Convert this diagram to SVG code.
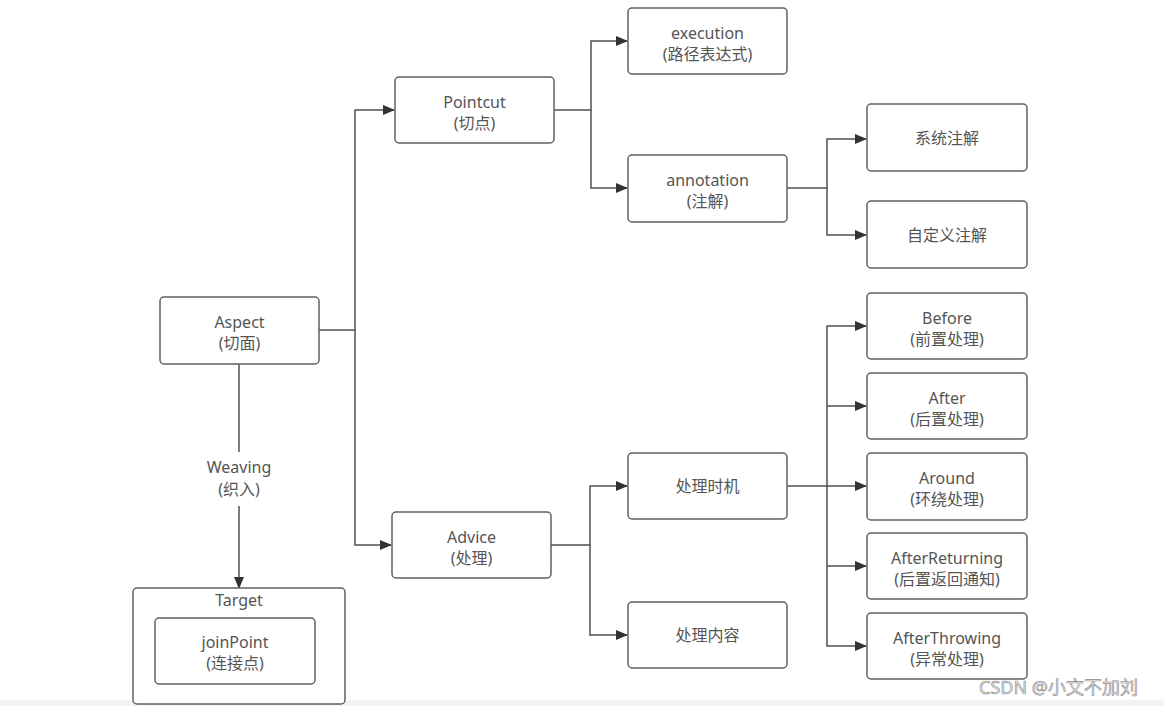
<svg xmlns="http://www.w3.org/2000/svg" width="1164" height="706" viewBox="0 0 1164 706">
<style>
.box{fill:#fff;stroke:#606060;stroke-width:1.5}
.t{font-family:"Noto Sans","Noto Sans CJK SC",sans-serif;font-size:16px;fill:#555;text-anchor:middle}
.c{fill:none;stroke:#505050;stroke-width:1.5}
.wm{font-family:"Noto Sans","Noto Sans CJK SC",sans-serif;font-size:18px;fill:#eaeaea;stroke:#8a8a8a;stroke-width:0.6}
</style>
<defs>
<marker id="ah" markerWidth="12" markerHeight="10" refX="11" refY="5" orient="auto" markerUnits="userSpaceOnUse">
<path d="M0,0 L12,5 L0,10 Z" fill="#333"/>
</marker>
</defs>
<rect width="1164" height="706" fill="#fff"/>
<rect x="0" y="700" width="1164" height="6" fill="#f3f3f3"/>
<g id="connectors">
<path class="c" d="M319,330 H355 V110 H394" marker-end="url(#ah)"/>
<path class="c" d="M355,330 V545 H391" marker-end="url(#ah)"/>
<path class="c" d="M554,110 H591 V41 H627" marker-end="url(#ah)"/>
<path class="c" d="M591,110 V188 H627" marker-end="url(#ah)"/>
<path class="c" d="M787,188 H827 V139 H866" marker-end="url(#ah)"/>
<path class="c" d="M827,188 V235 H866" marker-end="url(#ah)"/>
<path class="c" d="M551,545 H590 V486 H627" marker-end="url(#ah)"/>
<path class="c" d="M590,545 V635 H627" marker-end="url(#ah)"/>
<path class="c" d="M787,486 H827 V326 H866" marker-end="url(#ah)"/>
<path class="c" d="M827,406 H866" marker-end="url(#ah)"/>
<path class="c" d="M827,486 H866" marker-end="url(#ah)"/>
<path class="c" d="M827,486 V646 H866" marker-end="url(#ah)"/>
<path class="c" d="M827,566 H866" marker-end="url(#ah)"/>
<path class="c" d="M239,364 V452"/>
<path class="c" d="M239,506 V588" marker-end="url(#ah)"/>
<text class="t" x="239" y="473">Weaving</text>
<text class="t" x="239" y="495">(织入)</text>
</g>
<g id="aspect"><rect class="box" x="160" y="297" width="159" height="67" rx="4"/><text class="t" x="239.5" y="328">Aspect</text><text class="t" x="239.5" y="349">(切面)</text></g>
<g id="pointcut"><rect class="box" x="395" y="77" width="159" height="66" rx="4"/><text class="t" x="474.5" y="108">Pointcut</text><text class="t" x="474.5" y="129">(切点)</text></g>
<g id="advice"><rect class="box" x="392" y="512" width="159" height="66" rx="4"/><text class="t" x="471.5" y="543">Advice</text><text class="t" x="471.5" y="564">(处理)</text></g>
<g id="execution"><rect class="box" x="628" y="8" width="159" height="66" rx="4"/><text class="t" x="707.5" y="39">execution</text><text class="t" x="707.5" y="60">(路径表达式)</text></g>
<g id="annotation"><rect class="box" x="628" y="155" width="159" height="67" rx="4"/><text class="t" x="707.5" y="186">annotation</text><text class="t" x="707.5" y="207">(注解)</text></g>
<g id="sysanno"><rect class="box" x="867" y="104" width="160" height="67" rx="4"/><text class="t" x="947" y="144">系统注解</text></g>
<g id="customanno"><rect class="box" x="867" y="201" width="160" height="67" rx="4"/><text class="t" x="947" y="241">自定义注解</text></g>
<g id="timing"><rect class="box" x="628" y="453" width="159" height="66" rx="4"/><text class="t" x="707.5" y="492">处理时机</text></g>
<g id="content"><rect class="box" x="628" y="602" width="159" height="66" rx="4"/><text class="t" x="707.5" y="641">处理内容</text></g>
<g id="before"><rect class="box" x="867" y="293" width="160" height="66" rx="4"/><text class="t" x="947" y="324">Before</text><text class="t" x="947" y="345">(前置处理)</text></g>
<g id="after"><rect class="box" x="867" y="373" width="160" height="66" rx="4"/><text class="t" x="947" y="404">After</text><text class="t" x="947" y="425">(后置处理)</text></g>
<g id="around"><rect class="box" x="867" y="453" width="160" height="67" rx="4"/><text class="t" x="947" y="484">Around</text><text class="t" x="947" y="505">(环绕处理)</text></g>
<g id="afterreturning"><rect class="box" x="867" y="533" width="160" height="66" rx="4"/><text class="t" x="947" y="564">AfterReturning</text><text class="t" x="947" y="585">(后置返回通知)</text></g>
<g id="afterthrowing"><rect class="box" x="867" y="613" width="160" height="66" rx="4"/><text class="t" x="947" y="644">AfterThrowing</text><text class="t" x="947" y="665">(异常处理)</text></g>
<g id="target"><rect class="box" x="133" y="588" width="212" height="116" rx="4"/><text class="t" x="239" y="606">Target</text></g>
<g id="joinpoint"><rect class="box" x="155" y="618" width="160" height="66" rx="4"/><text class="t" x="235" y="648">joinPoint</text><text class="t" x="235" y="669">(连接点)</text></g>
<text class="wm" x="979" y="694">CSDN @小文不加刘</text>
</svg>
